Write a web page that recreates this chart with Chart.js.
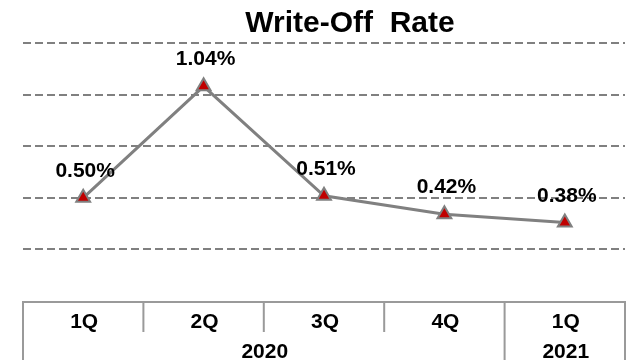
<!DOCTYPE html>
<html>
<head>
<meta charset="utf-8">
<title>Write-Off Rate</title>
<script src="https://cdn.jsdelivr.net/npm/chart.js@4/dist/chart.umd.min.js"></script>
<style>
    body { margin: 0; background: #fff; }
    #wrap { width: 629px; height: 360px; }
</style>
</head>
<body>
<div id="wrap"><canvas id="myChart" width="629" height="360"></canvas></div>
<script>
// chart data :
const quarters = ['1Q', '2Q', '3Q', '4Q', '1Q'];
const years = ['2020', '2020', '2020', '2020', '2021'];
const writeOffRate = [0.50, 1.04, 0.51, 0.42, 0.38];
const rateLabels = ['0.50%', '1.04%', '0.51%', '0.42%', '0.38%'];
const chartTitle = 'Write-Off  Rate';

const boldFont = '"Liberation Sans", Arial, sans-serif';
const lineGray = '#808080';
const tableGray = '#9a9a9a';

// title, value labels and the quarter / year table under the plot :
const tablePlugin = {
    id: 'tablePlugin',
    afterDraw(chart) {
        const ctx = chart.ctx;
        const area = chart.chartArea;
        const xScale = chart.scales.x;
        const meta = chart.getDatasetMeta(0);

        ctx.save();
        // title
        ctx.fillStyle = '#000';
        ctx.font = 'bold 30px ' + boldFont;
        ctx.textAlign = 'center';
        ctx.textBaseline = 'alphabetic';
        ctx.fillText(chartTitle, 350, 32);

        // value labels above points
        ctx.font = 'bold 21px ' + boldFont;
        meta.data.forEach((pt, i) => {
            ctx.fillText(rateLabels[i], pt.x + 2, pt.y - 21);
        });

        // table
        const half = (xScale.getPixelForValue(1) - xScale.getPixelForValue(0)) / 2;
        const top = area.bottom + 1;
        const mid = top + 30;
        const bottom = chart.height;
        const left = xScale.getPixelForValue(0) - half;
        const right = xScale.getPixelForValue(quarters.length - 1) + half;

        ctx.strokeStyle = tableGray;
        ctx.lineWidth = 2;
        ctx.beginPath();
        ctx.moveTo(left, bottom);
        ctx.lineTo(left, top);
        ctx.lineTo(right, top);
        ctx.lineTo(right, bottom);
        for (let i = 0; i < quarters.length - 1; i++) {
            const bx = xScale.getPixelForValue(i) + half;
            ctx.moveTo(bx, top);
            ctx.lineTo(bx, years[i] === years[i + 1] ? mid : bottom);
        }
        ctx.stroke();

        ctx.fillStyle = '#000';
        ctx.font = 'bold 21px ' + boldFont;
        ctx.textBaseline = 'middle';
        quarters.forEach((q, i) => {
            ctx.fillText(q, xScale.getPixelForValue(i) + 1, top + 20);
        });

        // year row, one cell per run of the same year
        let start = 0;
        for (let i = 1; i <= years.length; i++) {
            if (i === years.length || years[i] !== years[start]) {
                const x0 = xScale.getPixelForValue(start) - half;
                const x1 = xScale.getPixelForValue(i - 1) + half;
                ctx.fillText(years[start], (x0 + x1) / 2 + 1, top + 50);
                start = i;
            }
        }
        ctx.restore();
    }
};

var mychart = document.getElementById('myChart').getContext('2d');
var chart = new Chart(mychart, {
    type: 'line',
    data: {
        labels: quarters,
        datasets: [
            {
                label: 'Write-Off Rate',
                data: writeOffRate,
                borderColor: lineGray,
                borderWidth: 3,
                tension: 0,
                pointStyle: 'triangle',
                pointRadius: 8,
                pointHoverRadius: 8,
                pointBackgroundColor: '#c00000',
                pointBorderColor: lineGray,
                pointBorderWidth: 2
            }
        ]
    },
    options: {
        responsive: false,
        animation: false,
        layout: {
            autoPadding: false,
            padding: { top: 43, bottom: 59, left: 23, right: 4 }
        },
        plugins: {
            legend: { display: false },
            title: { display: false },
            tooltip: { enabled: false }
        },
        scales: {
            x: {
                display: false,
                offset: true
            },
            y: {
                min: 0,
                max: 1.25,
                afterFit: (s) => { s.width = 0; },
                ticks: { display: false, stepSize: 0.25 },
                border: { display: false, dash: [8, 4] },
                grid: {
                    drawTicks: false,
                    lineWidth: 2,
                    color: (c) => c.tick && c.tick.value === 0 ? 'rgba(0,0,0,0)' : lineGray
                }
            }
        }
    },
    plugins: [tablePlugin]
});
</script>
</body>
</html>
